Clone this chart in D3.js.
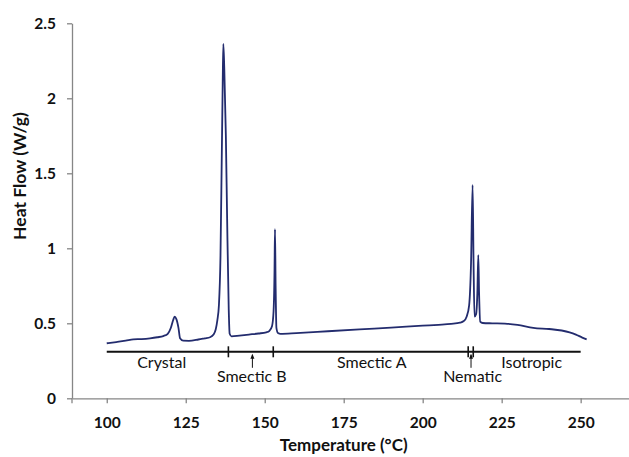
<!DOCTYPE html>
<html lang="en">
<head>
<meta charset="UTF-8">
<title>DSC</title>
<script src="https://cdn.jsdelivr.net/npm/d3@7"></script>
<style>
  * { margin: 0; padding: 0; }
  body { background: #fff; }
  text { font-family: Lato, "Open Sans", sans-serif; }
</style>
</head>
<body>
<svg></svg>
<script>
// DSC trace
const temps = [100, 103, 106, 108.4, 111, 113.7, 116, 117.9, 119.3, 120.3, 121, 121.5, 122, 122.7, 123.2, 124.2, 126, 129, 131, 132.7,
  133.8, 134.5, 135.0, 135.5, 136.0, 136.4, 136.7, 136.9, 137.2, 137.7, 138.1, 138.6, 138.9, 139.5, 142, 145, 148, 150.5,
  151.5, 152.3, 152.8, 153.1, 153.25, 153.45, 153.7, 154.2, 155, 160, 170, 180, 190, 200, 205, 209, 211.8, 213, 213.9,
  214.7, 215.3, 215.8, 216.1, 216.4, 216.9, 217.3, 217.6, 217.85, 218.2, 219, 222, 226, 230, 235, 240, 244, 246.5, 248.5, 250.5, 251.9];
const heat = [0.367, 0.375, 0.384, 0.393, 0.395, 0.400, 0.407, 0.415, 0.43, 0.47, 0.52, 0.544, 0.53, 0.47, 0.40, 0.384, 0.383, 0.392, 0.40, 0.407,
  0.425, 0.46, 0.52, 0.62, 0.95, 1.6, 2.1, 2.362, 2.2, 1.75, 1.2, 0.6, 0.43, 0.413, 0.418, 0.425, 0.432, 0.44,
  0.45, 0.48, 0.58, 0.85, 1.127, 0.75, 0.47, 0.435, 0.43, 0.435, 0.447, 0.459, 0.471, 0.484, 0.49, 0.496, 0.504, 0.515, 0.544,
  0.62, 0.9, 1.422, 0.9, 0.544, 0.56, 0.7, 0.955, 0.7, 0.511, 0.502, 0.50, 0.498, 0.49, 0.47, 0.462, 0.452, 0.44, 0.425, 0.405, 0.393];

// phase bar below the trace
const phaseStart = 100, phaseEnd = 250;
const phaseLevel = 0.31;
const boundaries = [138.5, 152.7, 214.4, 216.0];
const arrowTemps = [146.1, 215.3];
const phaseNames = ['Crystal', 'Smectic B', 'Smectic A', 'Nematic', 'Isotropic'];
const phaseCentres = [117.4, 145.9, 183.9, 215.8, 234.5];
const phaseRow = [0, 1, 0, 1, 0];

const xTicks = [100, 125, 150, 175, 200, 225, 250];
const yTicks = [0, 0.5, 1, 1.5, 2, 2.5];

const width = 629, height = 457;
const svg = d3.select('svg').attr('width', width).attr('height', height);

const x = d3.scaleLinear().domain([89, 265.3]).range([72, 629]);
const y = d3.scaleLinear().domain([0, 2.5]).range([398.3, 23.3]);

const axisColor = '#868686';

const gx = svg.append('g')
  .attr('transform', `translate(0,${y(0)})`)
  .call(d3.axisBottom(x).tickValues(xTicks).tickSizeInner(5).tickSizeOuter(0).tickPadding(14));
const gy = svg.append('g')
  .attr('transform', `translate(${x(89)},0)`)
  .call(d3.axisLeft(y).tickValues(yTicks).tickFormat(d3.format('')).tickSizeInner(5).tickSizeOuter(0).tickPadding(11));

[gx, gy].forEach(g => {
  g.select('.domain').attr('stroke', axisColor).attr('stroke-width', 1.3);
  g.selectAll('.tick line').attr('stroke', axisColor).attr('stroke-width', 1.3);
  g.selectAll('.tick text').attr('fill', '#111').attr('font-size', 15.5).attr('font-weight', 'bold');
});
// y axis pokes a little below the x axis
svg.append('line').attr('x1', x(89)).attr('x2', x(89)).attr('y1', y(0)).attr('y2', y(0) + 5)
  .attr('stroke', axisColor).attr('stroke-width', 1.3);

svg.append('text')
  .attr('x', (x(100) + x(250)) / 2).attr('y', 451)
  .attr('text-anchor', 'middle').attr('font-size', 17).attr('font-weight', 'bold').attr('fill', '#111')
  .text('Temperature (°C)');
svg.append('text')
  .attr('transform', `translate(26,176) rotate(-90)`)
  .attr('text-anchor', 'middle').attr('font-size', 17.5).attr('font-weight', 'bold').attr('fill', '#111')
  .text('Heat Flow (W/g)');

// trace
const trace = temps.map((t, i) => [t, heat[i]]);
svg.append('path')
  .datum(trace)
  .attr('fill', 'none')
  .attr('stroke', '#232c6e')
  .attr('stroke-width', 1.8)
  .attr('stroke-linejoin', 'round')
  .attr('d', d3.line().x(d => x(d[0])).y(d => y(d[1])).curve(d3.curveMonotoneX));

// phase bar
const yb = y(phaseLevel);
svg.append('line').attr('x1', x(phaseStart)).attr('x2', x(phaseEnd)).attr('y1', yb).attr('y2', yb)
  .attr('stroke', '#111').attr('stroke-width', 2);
svg.selectAll('.bound').data(boundaries).enter().append('line')
  .attr('x1', d => x(d)).attr('x2', d => x(d)).attr('y1', yb - 5.5).attr('y2', yb + 5.5)
  .attr('stroke', '#111').attr('stroke-width', 1.6);

svg.selectAll('.arrow').data(arrowTemps).enter().append('line')
  .attr('x1', d => x(d)).attr('x2', d => x(d)).attr('y1', yb + 16).attr('y2', yb + 3)
  .attr('stroke', '#111').attr('stroke-width', 1);
svg.selectAll('.head').data(arrowTemps).enter().append('path')
  .attr('d', d => `M${x(d) - 2},${yb + 7}L${x(d)},${yb + 2}L${x(d) + 2},${yb + 7}Z`)
  .attr('fill', '#111');

svg.selectAll('.phase').data(phaseNames).enter().append('text')
  .attr('x', (d, i) => x(phaseCentres[i]))
  .attr('y', (d, i) => phaseRow[i] ? yb + 30 : yb + 16.6)
  .attr('text-anchor', 'middle').attr('font-size', 16).attr('fill', '#111')
  .text(d => d);
</script>
</body>
</html>
